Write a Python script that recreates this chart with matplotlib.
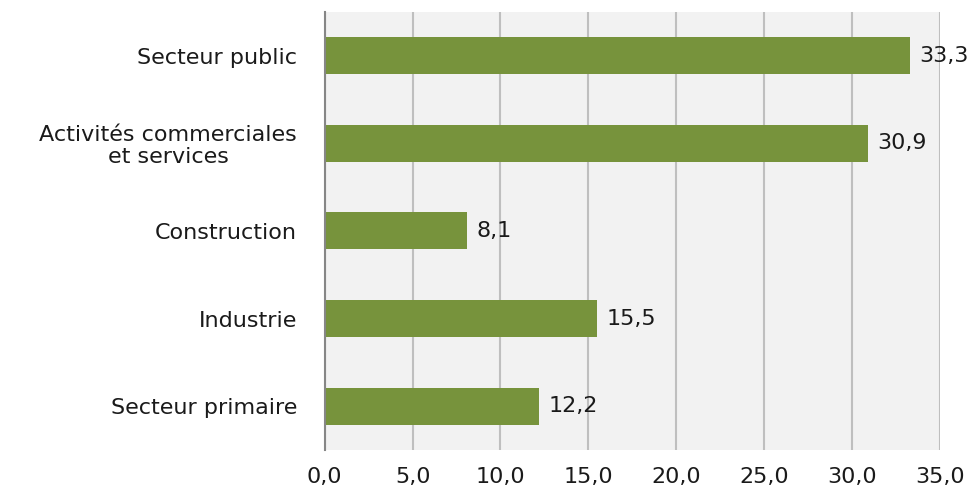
import matplotlib
matplotlib.use("Agg")
import matplotlib.pyplot as plt
from matplotlib.ticker import FuncFormatter

categories = ["Secteur primaire", "Industrie", "Construction",
              "Activités commerciales\net services", "Secteur public"]
values = [12.2, 15.5, 8.1, 30.9, 33.3]
xticks = [0, 5, 10, 15, 20, 25, 30, 35]

plt.rcParams["font.family"] = ["DejaVu Sans"]

fig = plt.figure(figsize=(9.75, 4.91), dpi=100)
ax = fig.add_axes([0.333, 0.0835, 0.631, 0.8925])
ax.set_facecolor("#F2F2F2")

ypos = range(len(categories))
ax.barh(ypos, values, height=0.42, color="#77933C", zorder=3)
for y, v in zip(ypos, values):
    ax.text(v + 0.55, y, f"{v:.1f}".replace(".", ","), va="center", ha="left",
            fontsize=16, color="#1a1a1a")

ax.set_xlim(0, 35)
ax.set_ylim(-0.5, len(categories) - 0.5)
ax.set_xticks(xticks)
ax.xaxis.set_major_formatter(FuncFormatter(lambda x, _: f"{x:.1f}".replace(".", ",")))
ax.set_yticks(list(ypos))
ax.set_yticklabels(categories, fontsize=16, color="#1a1a1a", linespacing=1.1,
                   multialignment="center")
ax.tick_params(axis="x", length=0, labelsize=16, labelcolor="#1a1a1a", pad=12)
ax.tick_params(axis="y", length=0, pad=20)
ax.xaxis.grid(True, color="#BFBFBF", linewidth=1.5, zorder=0)
for s in ["top", "right", "bottom"]:
    ax.spines[s].set_visible(False)
ax.spines["left"].set_color("#868686")
ax.spines["left"].set_linewidth(1.5)
ax.spines["left"].set_zorder(4)

fig.savefig("out.png", dpi=100)
